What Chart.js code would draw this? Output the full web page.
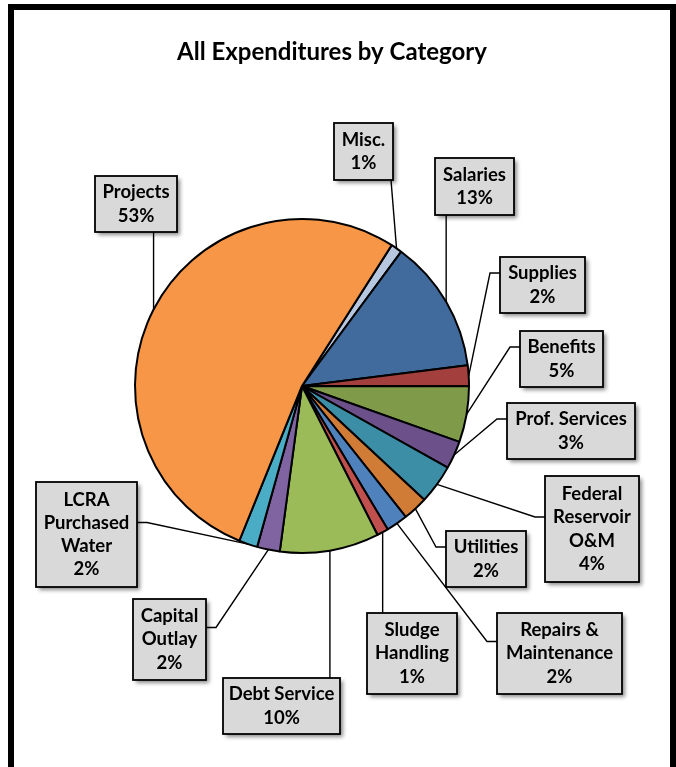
<!DOCTYPE html>
<html>
<head>
<meta charset="utf-8">
<title>All Expenditures by Category</title>
<script src="https://cdn.jsdelivr.net/npm/chart.js@4.4.1/dist/chart.umd.min.js"></script>
<style>
    html, body { margin: 0; padding: 0; background: #fff; }
    #expChart { display: block; }
</style>
</head>
<body>
<canvas id="expChart" width="676" height="767"></canvas>
<script>
var chartTitle = "All Expenditures by Category";

// slices, clockwise starting just right of the top
var categories = ['Misc.', 'Salaries', 'Supplies', 'Benefits', 'Prof. Services', 'Federal Reservoir O&M',
    'Utilities', 'Repairs & Maintenance', 'Sludge Handling', 'Debt Service', 'Capital Outlay',
    'LCRA Purchased Water', 'Projects'];
var shares = [1.1, 12.9, 2.0, 5.4, 2.7, 3.8, 2.4, 2.1, 1.1, 9.6, 2.2, 1.8, 52.9];
var labelLines = [['Misc.'], ['Salaries'], ['Supplies'], ['Benefits'], ['Prof. Services'], ['Federal', 'Reservoir', 'O&M'],
    ['Utilities'], ['Repairs &', 'Maintenance'], ['Sludge', 'Handling'], ['Debt Service'], ['Capital', 'Outlay'],
    ['LCRA', 'Purchased', 'Water'], ['Projects']];

var sliceColors = ['#b7c7e0', '#416b9c', '#a3403d', '#7f9a48', '#6b5089', '#3b8ea5',
    '#d07c37', '#4f81bd', '#c0504d', '#9bbb59', '#8064a2', '#4bacc6', '#f79646'];

// callout boxes: left, top, width, height, side the leader line leaves from
var calloutBoxes = [
    [334, 123, 59, 57, 'bottom'],
    [435, 158, 79, 57, 'bottom'],
    [500, 257, 85, 56, 'left'],
    [520, 331, 83, 56, 'left'],
    [507, 403, 128, 56, 'left'],
    [545, 476, 94, 106, 'left'],
    [446, 531, 80, 56, 'left'],
    [497, 613, 125, 81, 'left'],
    [367, 613, 90, 81, 'top'],
    [223, 678, 117, 56, 'top'],
    [133, 599, 73, 81, 'right'],
    [36, 482, 101, 105, 'right'],
    [95, 176, 82, 56, 'bottom']
];

var labelFont = 'bold 18.5px Lato';
var lineStep = 23.3;

var framePlugin = {
    id: 'frame',
    beforeDraw: function(chart) {
        var c = chart.ctx;
        c.save();
        c.fillStyle = '#fff';
        c.fillRect(0, 0, chart.width, chart.height);
        c.strokeStyle = '#000';
        c.lineWidth = 6;
        c.strokeRect(11, 7, 662, 800);
        c.fillStyle = '#000';
        c.font = 'bold 24px Lato';
        c.textAlign = 'center';
        c.textBaseline = 'alphabetic';
        c.fillText(chartTitle, 332, 60);
        c.restore();
    }
};

var calloutPlugin = {
    id: 'callouts',
    afterDatasetsDraw: function(chart) {
        var c = chart.ctx;
        var arcs = chart.getDatasetMeta(0).data;
        var total = shares.reduce((t, v) => t + v, 0);
        c.save();

        // leader lines first, boxes go on top of them
        arcs.forEach((arc, i) => {
            var p = arc.getProps(['x', 'y', 'startAngle', 'endAngle', 'outerRadius'], true);
            var mid = (p.startAngle + p.endAngle) / 2;
            var ax = p.x + Math.cos(mid) * p.outerRadius;
            var ay = p.y + Math.sin(mid) * p.outerRadius;
            var b = calloutBoxes[i];
            var cy = b[1] + b[3] / 2 - 12;
            c.beginPath();
            if (b[4] === 'left') {
                c.moveTo(b[0], cy);
                c.lineTo(b[0] - 10, cy);
            } else if (b[4] === 'right') {
                c.moveTo(b[0] + b[2], cy);
                c.lineTo(b[0] + b[2] + 10, cy);
            } else {
                var lx = Math.min(Math.max(ax, b[0] + 2), b[0] + b[2] - 2);
                c.moveTo(lx, b[4] === 'top' ? b[1] : b[1] + b[3]);
            }
            c.lineTo(ax, ay);
            c.strokeStyle = '#000';
            c.lineWidth = 1.4;
            c.stroke();
        });

        arcs.forEach((arc, i) => {
            var b = calloutBoxes[i];
            c.save();
            c.shadowColor = 'rgba(0,0,0,0.45)';
            c.shadowBlur = 4;
            c.shadowOffsetX = 3;
            c.shadowOffsetY = 3;
            c.fillStyle = '#d9d9d9';
            c.fillRect(b[0], b[1], b[2], b[3]);
            c.restore();
            c.strokeStyle = '#000';
            c.lineWidth = 1.8;
            c.strokeRect(b[0], b[1], b[2], b[3]);

            var lines = labelLines[i].concat([Math.round(shares[i] / total * 100) + '%']);
            var top = b[1] + b[3] / 2 - (lines.length - 1) * lineStep / 2;
            c.fillStyle = '#000';
            c.font = labelFont;
            c.textAlign = 'center';
            c.textBaseline = 'middle';
            lines.forEach((t, k) => {
                c.fillText(t, b[0] + b[2] / 2, top + k * lineStep);
            });
        });
        c.restore();
    }
};

var ctx = document.getElementById('expChart').getContext('2d');

var expChart = new Chart(ctx, {
    type: 'pie',
    data: {
        labels: categories,
        datasets: [{
            data: shares,
            backgroundColor: sliceColors,
            borderColor: '#000',
            borderWidth: 2
        }]
    },
    options: {
        responsive: false,
        animation: false,
        rotation: 32.5,
        radius: 167,
        layout: {
            padding: { top: 200, bottom: 195, left: 0, right: 72 }
        },
        plugins: {
            legend: { display: false },
            tooltip: { enabled: false },
            title: { display: false }
        }
    },
    plugins: [framePlugin, calloutPlugin]
});
</script>
</body>
</html>
